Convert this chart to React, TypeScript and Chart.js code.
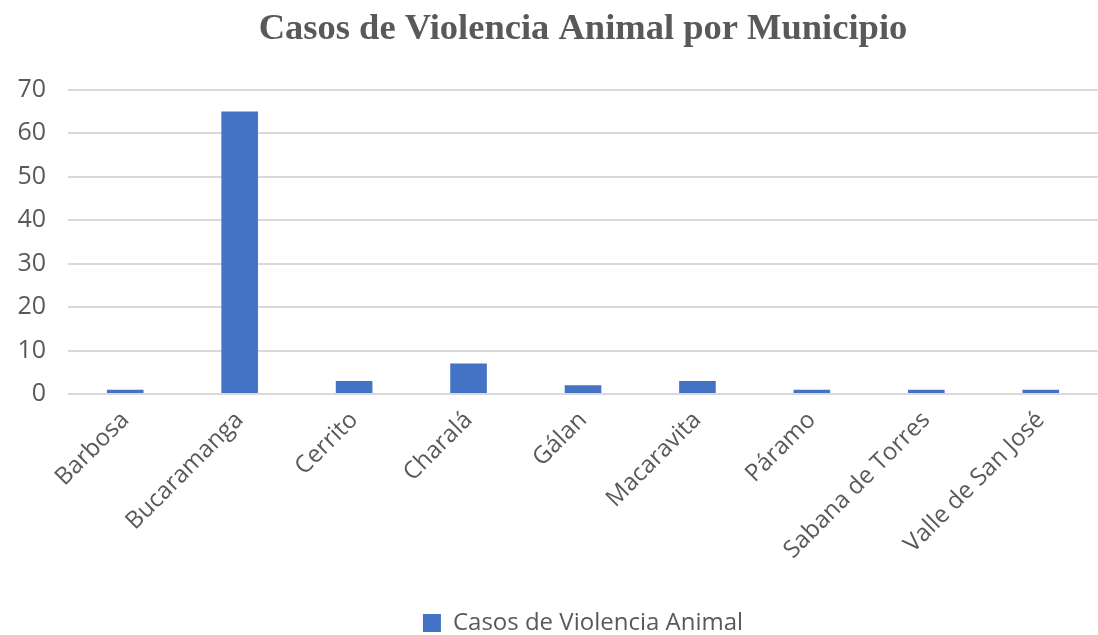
import React, { useEffect, useRef } from "react";
import { Chart, registerables } from "chart.js";

Chart.register(...registerables);

const categories = [
  "Barbosa",
  "Bucaramanga",
  "Cerrito",
  "Charalá",
  "Gálan",
  "Macaravita",
  "Páramo",
  "Sabana de Torres",
  "Valle de San José",
];
const casos = [1, 65, 3, 7, 2, 3, 1, 1, 1];
const seriesName = "Casos de Violencia Animal";
const chartTitle = "Casos de Violencia Animal por Municipio";
const yMax = 70;
const yStep = 10;

const TEXT = "#595959";
const FONT = "'Open Sans', 'DejaVu Sans', sans-serif";

export default function App() {
  const ref = useRef<HTMLCanvasElement | null>(null);
  useEffect(() => {
    document.body.style.margin = "0";
    const ctx = ref.current!;
    const chart = new Chart(ctx, {
      type: "bar",
      data: {
        labels: categories,
        datasets: [
          {
            label: seriesName,
            data: casos,
            backgroundColor: "#4472C4",
            borderWidth: 0,
            barPercentage: 0.32,
            categoryPercentage: 1,
          },
        ],
      },
      options: {
        animation: false,
        responsive: false,
        devicePixelRatio: 1,
        layout: { padding: { left: 0, right: 0, top: 0, bottom: -10 } },
        plugins: {
          title: {
            display: true,
            fullSize: false,
            text: chartTitle,
            color: TEXT,
            font: { family: "'Liberation Serif', 'Times New Roman', serif", size: 36.5, weight: "bold" },
            padding: { top: 8, bottom: 38 },
          },
          legend: {
            display: true,
            fullSize: false,
            position: "bottom",
            labels: {
              color: TEXT,
              font: { family: FONT, size: 24 },
              boxWidth: 18,
              boxHeight: 18,
              padding: 4,
            },
          },
          tooltip: { enabled: false },
        },
        scales: {
          x: {
            grid: { display: false },
            border: { display: false },
            ticks: {
              color: TEXT,
              font: { family: FONT, size: 24 },
              maxRotation: 45,
              minRotation: 45,
              padding: 4,
              autoSkip: false,
            },
            afterFit: (s: any) => {
              s.height = 213;
            },
          },
          y: {
            min: 0,
            max: yMax,
            grid: { color: "#D9D9D9", lineWidth: 2, drawTicks: false },
            border: { display: false },
            ticks: {
              stepSize: yStep,
              color: TEXT,
              font: { family: FONT, size: 25 },
              padding: 22,
            },
            afterFit: (s: any) => {
              s.width = 68;
            },
          },
        },
      },
    });
    return () => chart.destroy();
  }, []);
  return (
    <div style={{ position: "absolute", left: 0, top: 0, width: 1098, height: 635 }}>
      <canvas ref={ref} width={1098} height={635} style={{ width: 1098, height: 635 }} />
    </div>
  );
}
